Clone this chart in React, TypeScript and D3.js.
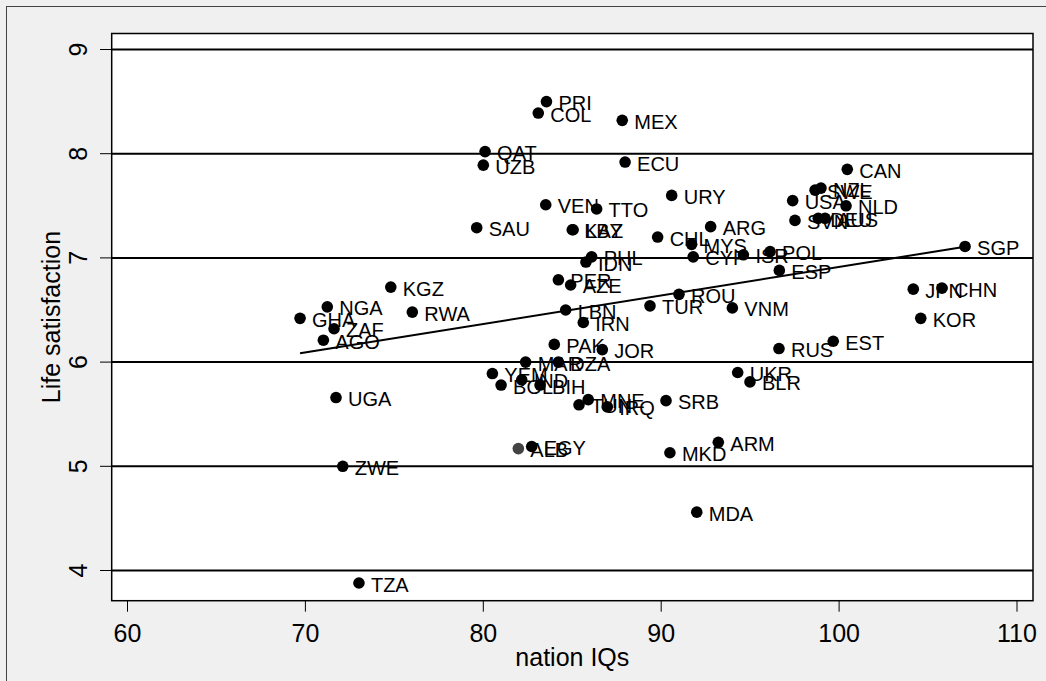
import React from "react";
import * as d3 from "d3";

// country codes, IQ and life satisfaction
const countries = [
  "PRI", "COL", "MEX", "QAT", "UZB", "ECU", "URY", "VEN", "TTO", "SAU",
  "KAZ", "LBY", "CHL", "ARG", "MYS", "CYP", "PHL", "IDN", "CAN", "NLD",
  "USA", "SVN", "SWE", "NZL", "DEU", "AUS", "POL", "ISR", "ESP", "SGP",
  "JPN", "CHN", "KOR", "RUS", "EST", "ROU", "TUR", "VNM", "KGZ", "NGA",
  "GHA", "RWA", "ZAF", "AGO", "UGA", "ZWE", "TZA", "PER", "AZE", "LBN",
  "IRN", "PAK", "JOR", "MAR", "DZA", "YEM", "IND", "BOL", "BIH", "MNE",
  "TUN", "IRQ", "SRB", "ALB", "EGY", "MKD", "ARM", "MDA", "UKR", "BLR",
];
const nationIQ = [
  83.55, 83.09, 87.81, 80.1, 80.0, 87.97, 90.59, 83.51, 86.37, 79.63,
  85.0, 85.05, 89.8, 92.78, 91.71, 91.8, 86.09, 85.77, 100.46, 100.39,
  97.39, 97.52, 98.65, 98.98, 98.83, 99.21, 96.12, 94.62, 96.64, 107.08,
  104.17, 105.78, 104.59, 96.62, 99.67, 91.0, 89.37, 94.0, 74.8, 71.23,
  69.7, 76.01, 71.61, 71.01, 71.72, 72.1, 73.01, 84.22, 84.91, 84.63,
  85.62, 83.99, 86.69, 82.38, 84.22, 80.51, 82.16, 81.0, 83.19, 85.9,
  85.38, 86.97, 90.27, 81.97, 82.72, 90.49, 93.21, 92.0, 94.3, 94.99,
];
const lifeSat = [
  8.5, 8.39, 8.32, 8.02, 7.89, 7.92, 7.6, 7.51, 7.47, 7.29,
  7.27, 7.27, 7.2, 7.3, 7.13, 7.01, 7.01, 6.96, 7.85, 7.5,
  7.55, 7.36, 7.65, 7.67, 7.38, 7.38, 7.06, 7.03, 6.88, 7.11,
  6.7, 6.71, 6.42, 6.13, 6.2, 6.65, 6.54, 6.52, 6.72, 6.53,
  6.42, 6.48, 6.32, 6.21, 5.66, 5.0, 3.88, 6.79, 6.74, 6.5,
  6.38, 6.17, 6.12, 6.0, 6.0, 5.89, 5.83, 5.78, 5.78, 5.64,
  5.59, 5.57, 5.63, 5.17, 5.19, 5.13, 5.23, 4.56, 5.9, 5.81,
];

// fitted line, end points
const fitIQ = [69.7, 107.08];
const fitSat = [6.084, 7.107];

const xTicks = [60, 70, 80, 90, 100, 110];
const yTicks = [4, 5, 6, 7, 8, 9];

const W = 1046;
const H = 681;
const plot = { left: 111.7, right: 1033, top: 33.5, bottom: 600.7 };
const font = "'Liberation Sans', Arial, Helvetica, sans-serif";

export default function App() {
  const x = d3.scaleLinear().domain([60, 110]).range([127.5, 1017]);
  const y = d3.scaleLinear().domain([4, 9]).range([570.5, 49.5]);

  const pts = countries.map((c, i) => ({ c, iq: nationIQ[i], ls: lifeSat[i] }));
  const fit = d3
    .line<number>()
    .x((d) => x(d))
    .y((d, i) => y(fitSat[i]));

  return (
    <svg
      width={W}
      height={H}
      style={{ position: "absolute", left: 0, top: 0, background: "#f0f0f0" }}
      fontFamily={font}
    >
      <rect x={0} y={0} width={W} height={H} fill="#f0f0f0" />
      <rect x={6.5} y={6.5} width={W + 20} height={H + 20} fill="#f0f0f0" stroke="#444" strokeWidth={1} />
      <rect
        x={plot.left}
        y={plot.top}
        width={plot.right - plot.left}
        height={plot.bottom - plot.top}
        fill="#fff"
      />

      {/* grid lines */}
      {yTicks.map((t) => (
        <line key={"g" + t} x1={plot.left} x2={plot.right} y1={y(t)} y2={y(t)} stroke="#000" strokeWidth={2} />
      ))}

      <rect
        x={plot.left}
        y={plot.top}
        width={plot.right - plot.left}
        height={plot.bottom - plot.top}
        fill="none"
        stroke="#000"
        strokeWidth={1.5}
      />

      {/* y axis */}
      {yTicks.map((t) => (
        <g key={"y" + t}>
          <line x1={100} x2={plot.left} y1={y(t)} y2={y(t)} stroke="#000" strokeWidth={1} />
          <text
            transform={`translate(87,${y(t)}) rotate(-90)`}
            textAnchor="middle"
            fontSize={25}
            fill="#000"
          >
            {t}
          </text>
        </g>
      ))}
      <text
        transform={`translate(60,${(plot.top + plot.bottom) / 2}) rotate(-90)`}
        textAnchor="middle"
        fontSize={25}
        fill="#000"
      >
        Life satisfaction
      </text>

      {/* x axis */}
      {xTicks.map((t) => (
        <g key={"x" + t}>
          <line x1={x(t)} x2={x(t)} y1={plot.bottom} y2={plot.bottom + 11} stroke="#000" strokeWidth={1} />
          <text x={x(t)} y={641.5} textAnchor="middle" fontSize={25} fill="#000">
            {t}
          </text>
        </g>
      ))}
      <text x={(plot.left + plot.right) / 2} y={666} textAnchor="middle" fontSize={25} fill="#000">
        nation IQs
      </text>

      {/* fit line */}
      <path d={fit(fitIQ) || ""} fill="none" stroke="#000" strokeWidth={2} />

      {/* points */}
      {pts.map((p) => (
        <g key={p.c}>
          <circle cx={x(p.iq)} cy={y(p.ls)} r={5.8} fill={p.c === "ALB" ? "#444" : "#000"} />
          <text x={x(p.iq) + 12} y={y(p.ls) + 8.5} fontSize={20} fill="#000">
            {p.c}
          </text>
        </g>
      ))}
    </svg>
  );
}
